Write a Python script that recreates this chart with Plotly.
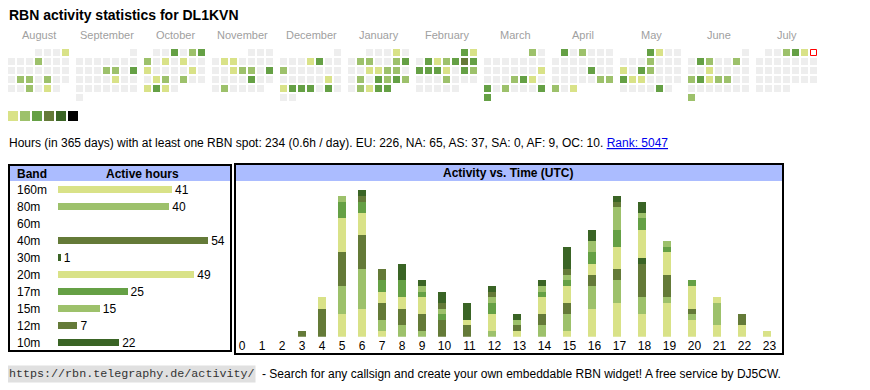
import datetime as dt
import plotly.graph_objects as go

# page body has an 8px margin: the figure is drawn 8px in, so it is 8px smaller
OFF = 8
W, H = 870, 390
FW, FH = W - OFF, H - OFF

# ---------------- data ----------------
title = "RBN activity statistics for DL1KVN"
info_text = ("Hours (in 365 days) with at least one RBN spot: 234 (0.6h / day). "
             "EU: 226, NA: 65, AS: 37, SA: 0, AF: 9, OC: 10. ")
rank_text = "Rank: 5047"
footer_url = "https://rbn.telegraphy.de/activity/"
footer_text = "- Search for any callsign and create your own embeddable RBN widget! A free service by DJ5CW."

month_names = ["August", "September", "October", "November", "December", "January",
               "February", "March", "April", "May", "June", "July"]
month_years = [2024, 2024, 2024, 2024, 2024, 2025, 2025, 2025, 2025, 2025, 2025, 2025]
month_nums = [8, 9, 10, 11, 12, 1, 2, 3, 4, 5, 6, 7]

# daily activity level (0 = none, 1..6 = colour level)
aug = [0,0,0,1, 0,0,0,2,0,0,0, 0,0,0,0,0,0,0, 0,2,2,0,2,0,0, 0,0,2,0,1,0]
sep = [0, 0,0,0,0,0,0,0, 0,0,0,2,2,0,3, 0,0,0,0,1,0,0, 0,0,0,0,0,0,0, 0]
octo = [0,0,3,0,2,3, 2,0,1,0,1,0,0, 1,0,0,0,0,1,0, 0,1,2,0,2,0,0, 1,3,1,0]
nov = [0,0,0, 0,1,1,0,0,0,0, 0,0,1,2,2,0,3, 0,0,0,0,3,0,0, 0,2,0,0,0,0]
dec = [0, 0,0,0,1,3,0,0, 2,0,0,0,0,0,0, 0,0,0,0,0,1,0, 1,3,3,3,0,3,0, 0,0]
jan = [0,0,0,1,0, 0,2,2,0,0,2,3, 0,0,1,1,2,2,0, 0,2,0,3,2,3,2, 0,2,1,3,3]
feb = [3,1, 0,3,1,2,3,4,3, 3,3,3,1,0,3,2, 0,0,0,2,0,0,0, 0,0,0,0,0]
mar = [2,0, 0,0,0,0,0,0,0, 0,0,0,0,0,0,1, 0,0,0,2,3,1,0, 3,0,2,0,0,0,3, 3]
apr = [3,0,2,0,0,0, 0,0,0,0,0,0,0, 0,0,0,0,3,0,0, 0,0,0,0,0,2,2, 2,0,1]
may = [3,1,0,0, 0,0,0,2,0,0,0, 1,0,3,2,0,0,0, 3,1,1,0,0,0,0, 0,0,0,0,3,0]
jun = [0, 0,3,2,0,0,2,0, 0,0,1,0,0,0,0, 2,3,1,2,2,0,0, 0,0,0,0,0,0,0, 2]
jul = [0,0,2,3,1,0, 0,0,0,0,0,0,0, 0,0,0,0,0,0,0, 0,0,0,0,0,0,0, 0,0,0,0]
today = dt.date(2025, 7, 6)

legend_levels = [1, 2, 3, 4, 5, 6]
level_colors = ["#eeeeee", "#d9e288", "#9dc16b", "#65a045", "#647a38", "#3a6425", "#000000"]

bands = ["160m", "80m", "60m", "40m", "30m", "20m", "17m", "15m", "12m", "10m"]
band_hours = [41, 40, 0, 54, 1, 49, 25, 15, 7, 22]
band_levels = [1, 2, 3, 4, 5, 1, 3, 2, 4, 5]

utc_hours = list(range(24))
hour_labels = [str(h) for h in utc_hours]
h160 = [0,0,0,0,0,4,5,1,0,0,0,0,0,1,0,1,5,6,4,6,3,2,2,1]
h80  = [0,0,0,0,0,5,7,2,2,1,0,0,1,0,2,3,4,4,3,1,1,4,0,0]
h60  = [0]*24
h40  = [0,0,0,1,5,6,6,3,3,3,3,2,0,1,2,2,2,2,6,4,1,0,2,0]
h30  = [0,0,0,0,0,0,0,0,0,0,0,0,0,0,0,0,0,0,1,0,0,0,0,0]
h20  = [0,0,0,0,2,6,4,2,2,3,0,1,3,0,3,3,2,4,5,4,4,1,0,0]
h17  = [0,0,0,0,0,3,2,2,3,1,1,0,2,0,1,1,2,3,2,1,1,0,0,0]
h15  = [0,0,0,0,0,1,0,0,0,1,1,0,1,1,1,1,2,4,1,1,0,0,0,0]
h12  = [0,0,0,0,0,0,1,2,0,0,1,0,1,0,0,1,0,1,0,0,0,0,0,0]
h10  = [0,0,0,0,0,0,1,0,3,1,2,3,1,1,1,4,2,1,2,0,0,0,0,0]

# ---------------- helpers ----------------
FONT = "Liberation Sans, Arial, sans-serif"
def px(x):
    return (x - OFF) / FW
def py(y):
    return 1 - (y - OFF) / FH

month_data = [aug, sep, octo, nov, dec, jan, feb, mar, apr, may, jun, jul]
hourly = [h160, h80, h60, h40, h30, h20, h17, h15, h12, h10]

CAL_X0, CAL_Y0, MONTH_STEP, CELL_STEP = 8, 49, 68, 9

cx, cy, cc, tx, ty = [], [], [], [], []
for m, (yr, mo, vals) in enumerate(zip(month_years, month_nums, month_data)):
    first_wd = dt.date(yr, mo, 1).weekday()
    for d, v in enumerate(vals):
        wd = (first_wd + d) % 7
        row = (first_wd + d) // 7
        x = CAL_X0 + m * MONTH_STEP + wd * CELL_STEP + 3.5
        y = CAL_Y0 + row * CELL_STEP + 3.5
        if dt.date(yr, mo, d + 1) == today:
            tx.append(x); ty.append(y)
            continue
        cx.append(x); cy.append(y); cc.append(level_colors[v])

# hour columns behave like table cells: width grows with the label length
col_w = [15 + 5 * len(lbl) for lbl in hour_labels]
col_left = [sum(col_w[:i]) for i in range(len(col_w))]
col_center = [l + w / 2 for l, w in zip(col_left, col_w)]
bar_pos = [l + 10 for l in col_left]
total_w = sum(col_w)

fig = go.Figure()

fig.add_trace(go.Scatter(x=cx, y=cy, mode="markers", hoverinfo="skip",
                         marker=dict(symbol="square", size=7, color=cc, line=dict(width=0)),
                         xaxis="x", yaxis="y", showlegend=False))
fig.add_trace(go.Scatter(x=tx, y=ty, mode="markers", hoverinfo="skip",
                         marker=dict(symbol="square", size=6, color="white",
                                     line=dict(width=1, color="#ff0000")),
                         xaxis="x", yaxis="y", showlegend=False))
# colour legend
fig.add_trace(go.Scatter(x=[8 + i * 12 + 5 for i in range(len(legend_levels))],
                         y=[116] * len(legend_levels), mode="markers", hoverinfo="skip",
                         marker=dict(symbol="square", size=10,
                                     color=[level_colors[l] for l in legend_levels],
                                     line=dict(width=0)),
                         xaxis="x", yaxis="y", showlegend=False))

# band bars
fig.add_trace(go.Bar(y=bands, x=band_hours, orientation="h", width=0.43,
                     marker=dict(color=[level_colors[l] for l in band_levels], line=dict(width=0)),
                     text=[str(v) if v else "" for v in band_hours], textposition="outside",
                     constraintext="none",
                     textfont=dict(size=12, color="black", family=FONT), cliponaxis=False,
                     xaxis="x2", yaxis="y2", showlegend=False, hoverinfo="skip"))

# hourly stacked bars
for b, vals, lv in zip(bands, hourly, band_levels):
    fig.add_trace(go.Bar(x=bar_pos, y=vals, width=8, name=b,
                         marker=dict(color=level_colors[lv], line=dict(width=0)),
                         xaxis="x3", yaxis="y3", showlegend=False))

BAR_X0, BAR_X1, PX_PER_H = 58, 232, 2.78
UNIT = 5.63
BASE_Y, TOP_Y = 336.7, 181
COL_X0 = 232

fig.update_layout(
    width=FW, height=FH, margin=dict(l=0, r=0, t=0, b=0, autoexpand=False),
    paper_bgcolor="white", plot_bgcolor="rgba(0,0,0,0)",
    barmode="stack", font=dict(family=FONT, size=12, color="black"),
    xaxis=dict(domain=[0, 1], range=[OFF, W], visible=False, fixedrange=True, anchor="y"),
    yaxis=dict(domain=[0, 1], range=[H, OFF], visible=False, fixedrange=True, anchor="x"),
    xaxis2=dict(domain=[px(BAR_X0), px(BAR_X1)], range=[0, (BAR_X1 - BAR_X0) / PX_PER_H],
                visible=False, fixedrange=True, anchor="y2"),
    yaxis2=dict(domain=[py(351), py(181)], type="category", categoryarray=bands,
                range=[len(bands) - 0.5, -0.5], visible=False, fixedrange=True, anchor="x2"),
    xaxis3=dict(domain=[px(COL_X0), px(COL_X0 + total_w)], range=[0, total_w], tickmode="array",
                tickvals=col_center, ticktext=hour_labels, anchor="y3",
                showgrid=False, zeroline=False, showline=False, ticks="", automargin=False,
                tickfont=dict(size=12, color="black", family=FONT), fixedrange=True),
    yaxis3=dict(domain=[py(BASE_Y), py(TOP_Y)], range=[0, (BASE_Y - TOP_Y) / UNIT],
                visible=False, fixedrange=True, anchor="x3"),
)

shapes = [
    dict(type="rect", xref="paper", yref="paper", x0=px(10), x1=px(230), y0=py(181), y1=py(166),
         fillcolor="#abbcff", line=dict(width=0), layer="below"),
    dict(type="rect", xref="paper", yref="paper", x0=px(236), x1=px(782), y0=py(181), y1=py(165),
         fillcolor="#abbcff", line=dict(width=0), layer="below"),
    dict(type="rect", xref="paper", yref="paper", x0=px(9), x1=px(231), y0=py(351), y1=py(165),
         line=dict(width=2, color="black")),
    dict(type="rect", xref="paper", yref="paper", x0=px(235), x1=px(783), y0=py(354), y1=py(164),
         line=dict(width=2, color="black")),
]

ann = []
ann.append(dict(text="<b>" + title + "</b>", x=px(7), y=py(15), xanchor="left", yanchor="middle",
                font=dict(size=14, family=FONT)))
for m, name in enumerate(month_names):
    ann.append(dict(text=name, x=px(CAL_X0 + m * MONTH_STEP + 31), y=py(35),
                    xanchor="center", yanchor="middle", font=dict(size=11, color="#a0a0a0", family=FONT)))
ann.append(dict(text=info_text + '<span style="color:#0000ee;text-decoration:underline">'
                + rank_text + "</span>", x=px(7), y=py(142.5), xanchor="left", yanchor="middle",
                font=dict(size=12, family=FONT)))
ann.append(dict(text="<b>Band</b>", x=px(15), y=py(173.5), xanchor="left", yanchor="middle",
                font=dict(size=12, family=FONT)))
ann.append(dict(text="<b>Active hours</b>", x=px(142), y=py(173.5), xanchor="center", yanchor="middle",
                font=dict(size=12, family=FONT)))
ann.append(dict(text="<b>Activity vs. Time (UTC)</b>", x=px(508), y=py(173), xanchor="center",
                yanchor="middle", font=dict(size=12, family=FONT)))
for b in bands:
    ann.append(dict(text=b, xref="paper", yref="y2", x=px(15), y=b, xanchor="left", yanchor="middle",
                    font=dict(size=12, family=FONT)))
ann.append(dict(text=footer_url, x=px(7), y=py(374), xanchor="left", yanchor="middle",
                bgcolor="#e0e0e0", borderpad=1,
                font=dict(size=11.7, family="Liberation Mono, Courier New, monospace", color="#333")))
ann.append(dict(text=footer_text, x=px(260), y=py(374), xanchor="left", yanchor="middle",
                font=dict(size=12, family=FONT)))
for a in ann:
    a.setdefault("xref", "paper")
    a.setdefault("yref", "paper")
    a["showarrow"] = False

fig.update_layout(shapes=shapes, annotations=ann)
fig.write_html("out.html", config={"displayModeBar": False})
